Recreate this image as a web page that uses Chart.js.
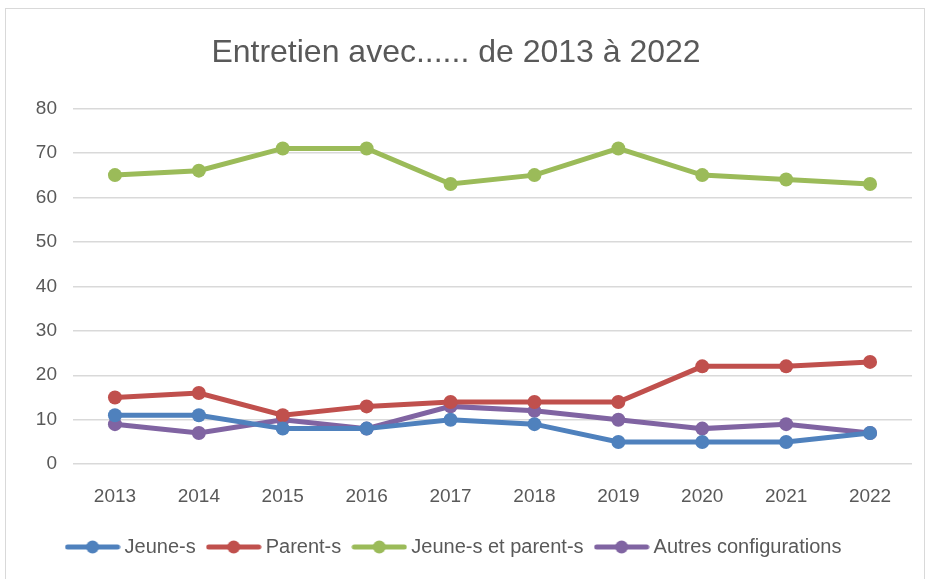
<!DOCTYPE html>
<html>
<head>
<meta charset="utf-8">
<script src="https://cdn.jsdelivr.net/npm/chart.js@4/dist/chart.umd.min.js"></script>
<style>
  html, body { margin: 0; padding: 0; background: #fff; }
  .cadre { position: absolute; left: 5px; top: 8px; width: 918px; height: 575px; border: 1px solid #d9d9d9; }
  .zone { position: absolute; left: 0; top: 0; width: 928px; height: 579px; }
</style>
</head>
<body>
<div class="cadre"></div>
<div class="zone"><canvas id="graficoEntretien"></canvas></div>
<script>
var annees = ['2013', '2014', '2015', '2016', '2017', '2018', '2019', '2020', '2021', '2022'];
var jeunes = [11, 11, 8, 8, 10, 9, 5, 5, 5, 7];
var parents = [15, 16, 11, 13, 14, 14, 14, 22, 22, 23];
var jeunesEtParents = [65, 66, 71, 71, 63, 65, 71, 65, 64, 63];
var autres = [9, 7, 10, 8, 13, 12, 10, 8, 9, 7];
var nomsSeries = ['Jeune-s', 'Parent-s', 'Jeune-s et parent-s', 'Autres configurations'];
var couleurs = ['#4f81bd', '#c0504d', '#9bbb59', '#8064a2'];

var police = "'Liberation Sans', Arial, sans-serif";
var gris = '#595959';

// petit dessin ligne + point pour la legende
function iconeLegende(cor) {
    var c = document.createElement('canvas');
    c.width = 56; c.height = 14;
    var g = c.getContext('2d');
    g.strokeStyle = cor;
    g.lineWidth = 5;
    g.lineCap = 'round';
    g.beginPath();
    g.moveTo(3, 7); g.lineTo(53, 7);
    g.stroke();
    g.fillStyle = cor;
    g.beginPath();
    g.arc(28, 7, 6.5, 0, Math.PI * 2);
    g.fill();
    return c;
}

function serie(i, dados) {
    return {
        label: nomsSeries[i],
        data: dados,
        borderColor: couleurs[i],
        backgroundColor: couleurs[i],
        borderWidth: 5,
        pointRadius: 7,
        pointHoverRadius: 7,
        pointBorderWidth: 0,
        tension: 0
    };
}

var ctx = document.getElementById('graficoEntretien').getContext('2d');

var grafico = new Chart(ctx, {
    type: 'line',
    data: {
        labels: annees,
        datasets: [serie(0, jeunes), serie(1, parents), serie(2, jeunesEtParents), serie(3, autres)]
    },
    options: {
        responsive: true,
        maintainAspectRatio: false,
        animation: false,
        layout: { padding: { left: 0, right: 16, top: 22, bottom: 12 } },
        plugins: {
            title: {
                display: true,
                text: 'Entretien avec...... de 2013 à 2022',
                color: gris,
                font: { family: police, size: 32, weight: 'normal' },
                padding: { top: 12, bottom: 36 }
            },
            legend: {
                position: 'bottom',
                labels: {
                    usePointStyle: true,
                    pointStyleWidth: 44,
                    padding: 16,
                    color: gris,
                    font: { family: police, size: 20 },
                    generateLabels: function (chart) {
                        return chart.data.datasets.map(function (ds, i) {
                            return {
                                text: ds.label,
                                fillStyle: ds.borderColor,
                                strokeStyle: ds.borderColor,
                                fontColor: gris,
                                lineWidth: 0,
                                pointStyle: iconeLegende(ds.borderColor),
                                hidden: false,
                                datasetIndex: i
                            };
                        });
                    }
                }
            },
            tooltip: { enabled: false }
        },
        scales: {
            x: {
                offset: true,
                grid: { display: false },
                border: { display: false },
                ticks: { color: gris, font: { family: police, size: 19 }, padding: 13 }
            },
            y: {
                min: 0,
                max: 80,
                afterFit: function (s) { s.width = 73; },
                grid: { color: '#d9d9d9', lineWidth: 1.5, drawTicks: false },
                border: { display: false },
                ticks: { stepSize: 10, color: gris, font: { family: police, size: 19 }, padding: 16 }
            }
        }
    }
});
</script>
</body>
</html>
